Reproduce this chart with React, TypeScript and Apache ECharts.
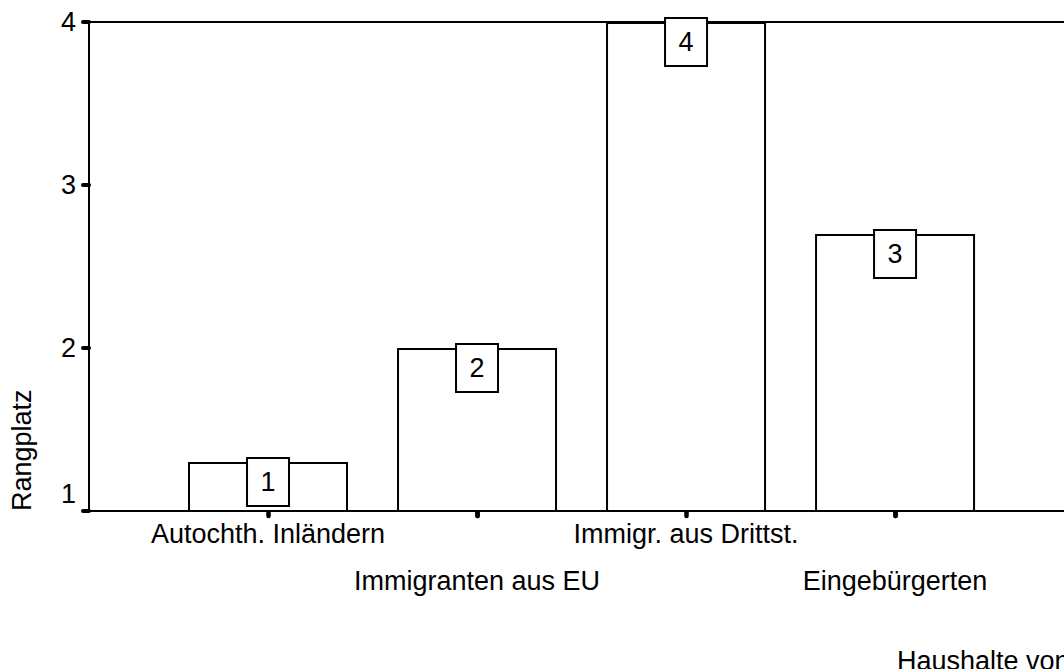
import React, { useEffect, useRef } from "react";
import * as echarts from "echarts";

const categories = [
  "Autochth. Inländern",
  "Immigranten aus EU",
  "Immigr. aus Drittst.",
  "Eingebürgerten",
];
const rankValues = [1.3, 2.0, 4.0, 2.7];
const rankLabels = ["1", "2", "4", "3"];
const yTicks = [1, 2, 3, 4];
const yAxisTitle = "Rangplatz";
const xAxisTitle = "Haushalte von";

const FONT = "'Liberation Sans', Arial, sans-serif";

export default function App() {
  const ref = useRef<HTMLDivElement>(null);
  useEffect(() => {
    if (!ref.current) return;
    const chart = echarts.init(ref.current, null, { renderer: "svg" });
    const positions = categories.map((_, i) => i + 1);
    const upper = positions.filter((_, i) => i % 2 === 0);
    const lower = positions.filter((_, i) => i % 2 === 1);
    const nameOf = (v: number) => categories[Math.round(v) - 1] ?? "";
    const tickStyle = { color: "#000", width: 4.5, cap: "round" };
    const labelBase = {
      fontSize: 27,
      fontFamily: FONT,
      color: "#000",
      showMinLabel: true,
      showMaxLabel: true,
      hideOverlap: false,
      formatter: nameOf,
    };
    chart.setOption({
      animation: false,
      textStyle: { fontFamily: FONT, color: "#000" },
      grid: {
        left: 89,
        top: 22,
        height: 489,
        width: 995,
        outerBoundsMode: "none",
        containLabel: false,
        show: true,
        borderColor: "#000",
        borderWidth: 2,
        backgroundColor: "transparent",
      },
      xAxis: [
        {
          type: "value",
          position: "bottom",
          min: 0.1435,
          max: 4.904,
          splitLine: { show: false },
          axisLine: { show: true, onZero: false, lineStyle: { color: "#000", width: 2 } },
          axisTick: { show: true, customValues: positions, length: 5, lineStyle: tickStyle },
          axisLabel: { ...labelBase, customValues: upper, margin: 9 },
        },
        {
          type: "value",
          position: "bottom",
          offset: 0,
          min: 0.1435,
          max: 4.904,
          splitLine: { show: false },
          axisLine: { show: false, onZero: false },
          axisTick: { show: true, customValues: lower, length: 5, lineStyle: tickStyle },
          axisLabel: { ...labelBase, customValues: lower, margin: 56 },
        },
      ],
      yAxis: {
        type: "value",
        min: 1,
        max: 4,
        interval: 1,
        splitLine: { show: false },
        axisLine: { show: true, onZero: false, lineStyle: { color: "#000", width: 2 } },
        axisTick: {
          show: true,
          length: 6,
          lineStyle: { color: "#000", width: 4, cap: "round" },
        },
        axisLabel: {
          margin: 13,
          fontSize: 27,
          color: "#000",
          fontFamily: FONT,
          showMinLabel: true,
          showMaxLabel: true,
          customValues: yTicks,
          formatter: (v: number) => (v === 1 ? `{lo|${v}}` : `${v}`),
          rich: {
            lo: { fontSize: 27, fontFamily: FONT, color: "#000", padding: [0, 0, 34, 0] },
          },
        },
      },
      series: [
        {
          type: "bar",
          xAxisIndex: 0,
          barWidth: 160,
          data: rankValues.map((v, i) => [positions[i], v]),
          itemStyle: { color: "#fff", borderColor: "#000", borderWidth: 2 },
          label: {
            show: true,
            position: "insideTop",
            distance: -3,
            formatter: (p: any) => rankLabels[p.dataIndex],
            fontSize: 27,
            fontFamily: FONT,
            color: "#000",
            width: 40,
            height: 46,
            lineHeight: 46,
            padding: 0,
            align: "center",
            borderColor: "#000",
            borderWidth: 2,
            backgroundColor: "#fff",
          },
        },
      ],
      graphic: [
        {
          type: "text",
          x: 22,
          y: 511,
          rotation: Math.PI / 2,
          style: {
            text: yAxisTitle,
            font: `27px ${FONT}`,
            fill: "#000",
            textAlign: "left",
            textVerticalAlign: "middle",
          },
        },
        {
          type: "text",
          x: 897,
          y: 647,
          style: {
            text: xAxisTitle,
            font: `27px ${FONT}`,
            fill: "#000",
            textAlign: "left",
            textVerticalAlign: "top",
          },
        },
      ],
    });
    return () => chart.dispose();
  }, []);
  return (
    <div
      ref={ref}
      style={{ position: "absolute", left: 0, top: 0, width: 1064, height: 669 }}
    />
  );
}
